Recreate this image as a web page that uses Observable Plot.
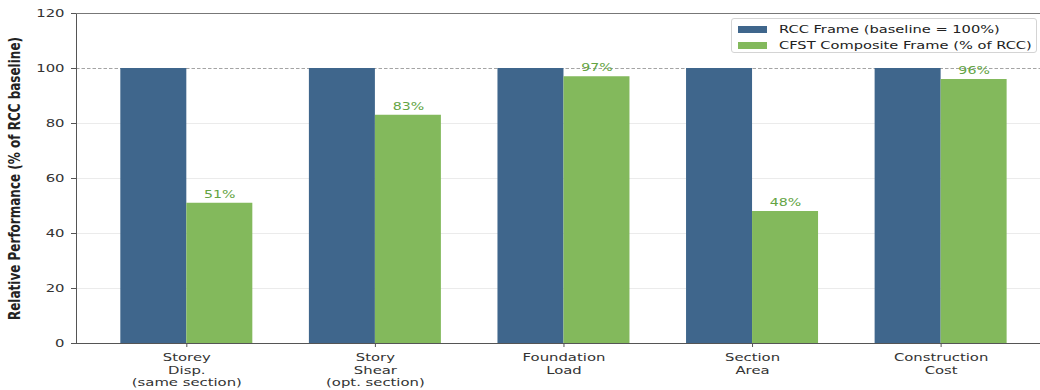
<!DOCTYPE html>
<html>
<head>
<meta charset="utf-8">
<script src="https://cdn.jsdelivr.net/npm/d3@7"></script>
<script src="https://cdn.jsdelivr.net/npm/@observablehq/plot@0.6"></script>
<style>
  body { margin: 0; background: #fff; overflow: hidden; }
  #wrap { position: relative; width: 1040px; height: 390px; font-family: "DejaVu Sans", sans-serif; }
  .legend {
    position: absolute; left: 731px; top: 18px; width: 306px; height: 35px;
    border: 1px solid #d4d4d4; border-radius: 3px; background: rgba(255,255,255,0.85);
    box-sizing: border-box; padding: 3px 0 0 6px;
  }
  .legend .row { display: flex; align-items: center; height: 15.5px; font-size: 11px; color: #222; white-space: nowrap; }
  .legend .sw { width: 29px; height: 7px; margin-right: 12px; flex: none; }
  .legend .txt { display: inline-block; transform: scaleX(1.33); transform-origin: left center; }
</style>
</head>
<body>
<div id="wrap"></div>
<script>
// Relative performance of the CFST composite frame against the RCC frame
const categories = [
  "Storey\nDisp.\n(same section)",
  "Story\nShear\n(opt. section)",
  "Foundation\nLoad",
  "Section\nArea",
  "Construction\nCost"
];
const rccValues = [100, 100, 100, 100, 100];
const cfstValues = [51, 83, 97, 48, 96];
const seriesNames = ["RCC Frame (baseline = 100%)", "CFST Composite Frame (% of RCC)"];
const yTicks = [0, 20, 40, 60, 80, 100, 120];
const gridLevels = [20, 40, 60, 80];
const baseline = 100;

const colors = { rcc: "#3f668c", cfst: "#83b95c" };
const barWidth = 0.35;
const xDomain = [-0.585, 4.527];
// the figure's text is drawn wider than it is tall
const textStretch = 1.35;

const rows = categories.map((label, i) => ({ i, label, rcc: rccValues[i], cfst: cfstValues[i] }));

const chart = Plot.plot({
  width: 1040,
  height: 390,
  marginLeft: 76,
  marginRight: 0,
  marginTop: 13,
  marginBottom: 47,
  style: { fontFamily: "DejaVu Sans, sans-serif", fontSize: "11px", color: "#333", background: "transparent" },
  x: { type: "linear", domain: xDomain, axis: null },
  y: { domain: [0, 120], axis: null },
  marks: [
    // horizontal grid and 100% baseline
    Plot.ruleY(gridLevels, { stroke: "#e6e6e6", strokeWidth: 0.8 }),
    Plot.ruleY([baseline], { stroke: "#9a9a9a", strokeWidth: 0.9, strokeDasharray: "3.5,2" }),
    // grouped bars
    Plot.rectY(rows, { x1: d => d.i - barWidth, x2: d => d.i, y: "rcc", fill: colors.rcc }),
    Plot.rectY(rows, { x1: d => d.i, x2: d => d.i + barWidth, y: "cfst", fill: colors.cfst }),
    // value labels above the composite bars
    Plot.text(rows, {
      x: d => d.i + barWidth / 2, y: "cfst", text: d => `${d.cfst}%`,
      dy: -9, fill: "#64a444", fontSize: 10.5
    }),
    // spines
    Plot.ruleX([xDomain[0]], { stroke: "#555", strokeWidth: 1 }),
    Plot.ruleY([0], { stroke: "#555", strokeWidth: 1 }),
    Plot.ruleY([120], { stroke: "#777", strokeWidth: 1 }),
    // axes
    Plot.axisY({
      ticks: yTicks, tickSize: 5, tickPadding: 7, stroke: "#555", fill: "#333",
      label: "Relative Performance (% of RCC baseline)", labelAnchor: "center",
      labelArrow: false, labelOffset: 68
    }),
    Plot.axisX({
      ticks: d3.range(categories.length), tickFormat: i => categories[i],
      tickSize: 4, tickPadding: 5, stroke: "#555", fill: "#333", lineHeight: 1.12, label: null
    })
  ]
});

// bold axis title
chart.querySelectorAll("g[aria-label='y-axis label'] text").forEach(t => {
  t.setAttribute("font-weight", "bold");
  t.setAttribute("font-size", "12");
  t.setAttribute("fill", "#222");
});

// widen every text horizontally about its own anchor
chart.querySelectorAll("text").forEach(t => {
  let tr = t.getAttribute("transform") || "";
  const x = +(t.getAttribute("x") || 0), y = +(t.getAttribute("y") || 0);
  if (x || y) {
    t.removeAttribute("x"); t.removeAttribute("y");
    tr = `translate(${x},${y}) ` + tr;
  }
  const rotated = /rotate\(\s*-?90/.test(tr);
  t.setAttribute("transform", tr + (rotated ? ` scale(1,${textStretch})` : ` scale(${textStretch},1)`));
});

const wrap = document.getElementById("wrap");
wrap.appendChild(chart);

const legend = document.createElement("div");
legend.className = "legend";
[["rcc", seriesNames[0]], ["cfst", seriesNames[1]]].forEach(([key, name]) => {
  const row = document.createElement("div");
  row.className = "row";
  const sw = document.createElement("span");
  sw.className = "sw";
  sw.style.background = colors[key];
  const label = document.createElement("span");
  label.className = "txt";
  label.textContent = name;
  row.append(sw, label);
  legend.appendChild(row);
});
wrap.appendChild(legend);
</script>
</body>
</html>
